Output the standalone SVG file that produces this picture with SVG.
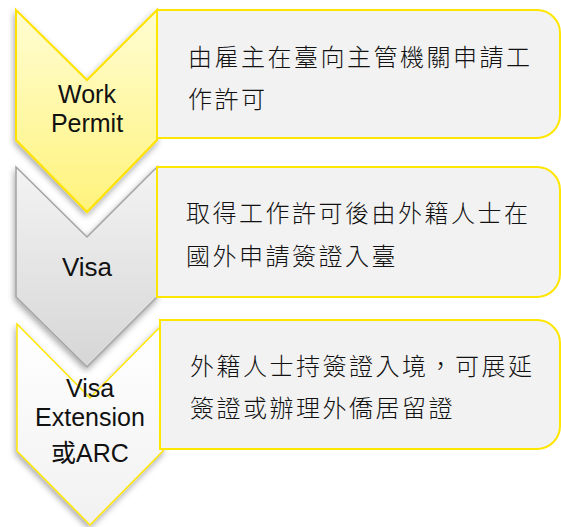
<svg xmlns="http://www.w3.org/2000/svg" width="561" height="527" viewBox="0 0 561 527">
<defs>
<linearGradient id="gY" x1="0" y1="0" x2="0" y2="1">
<stop offset="0" stop-color="#fffdd2"/>
<stop offset="1" stop-color="#fff37c"/>
</linearGradient>
<linearGradient id="gG" x1="0" y1="0" x2="0" y2="1">
<stop offset="0" stop-color="#f3f3f3"/>
<stop offset="1" stop-color="#d6d6d6"/>
</linearGradient>
<linearGradient id="gW" x1="0" y1="0" x2="0" y2="1">
<stop offset="0" stop-color="#ffffff"/>
<stop offset="1" stop-color="#f1f1f1"/>
</linearGradient>
<filter id="sh" x="-20%" y="-20%" width="140%" height="140%">
<feDropShadow dx="-1" dy="3" stdDeviation="3" flood-color="#000" flood-opacity="0.35"/>
</filter>
</defs>
<style>
.box{fill:#f2f2f2;stroke:#ffe600;stroke-width:2}
.cj{font-family:"Noto Sans CJK TC","Noto Sans CJK SC",sans-serif;font-size:24px;font-weight:300;letter-spacing:2.5px;fill:#111}
.lb{font-family:"Liberation Sans","Noto Sans CJK TC",sans-serif;fill:#111;text-anchor:middle}
</style>
<g id="chevron1">
<path d="M16,10 L87,80 L157,10 L157,140 L87,212 L16,140 Z" fill="url(#gY)" stroke="#ffe200" stroke-width="2" filter="url(#sh)"/>
<text class="lb" font-size="25" x="87" y="103">Work</text>
<text class="lb" font-size="25" x="87" y="132">Permit</text>
</g>
<g id="chevron2">
<path d="M16,167 L87,237 L157,167 L157,297 L87,367 L16,297 Z" fill="url(#gG)" stroke="#a3a3a3" stroke-width="1.5" filter="url(#sh)"/>
<text class="lb" font-size="26" x="87" y="276">Visa</text>
</g>
<g id="chevron3">
<path d="M17,324 L90,398 L163,324 L163,451 L90,525 L17,451 Z" fill="url(#gW)" stroke="#ffe600" stroke-width="1.5" filter="url(#sh)"/>
<text class="lb" font-size="25" x="90" y="397">Visa</text>
<text class="lb" font-size="25" x="90" y="426">Extension</text>
<text class="lb" font-size="25" x="90" y="462">或ARC</text>
</g>
<g id="box1">
<path class="box" d="M157,10 H537 A23,23 0 0 1 560,33 V115 A23,23 0 0 1 537,138 H157 Z"/>
<text class="cj" x="188" y="66">由雇主在臺向主管機關申請工</text>
<text class="cj" x="188" y="108">作許可</text>
</g>
<g id="box2">
<path class="box" d="M157,167 H537 A23,23 0 0 1 560,190 V274 A23,23 0 0 1 537,297 H157 Z"/>
<text class="cj" x="186" y="222">取得工作許可後由外籍人士在</text>
<text class="cj" x="186" y="265">國外申請簽證入臺</text>
</g>
<g id="box3">
<path class="box" d="M160,320 H537 A23,23 0 0 1 560,343 V426 A23,23 0 0 1 537,449 H160 Z"/>
<text class="cj" x="190" y="375">外籍人士持簽證入境，可展延</text>
<text class="cj" x="190" y="417">簽證或辦理外僑居留證</text>
</g>
<g id="connectors"/>
</svg>
